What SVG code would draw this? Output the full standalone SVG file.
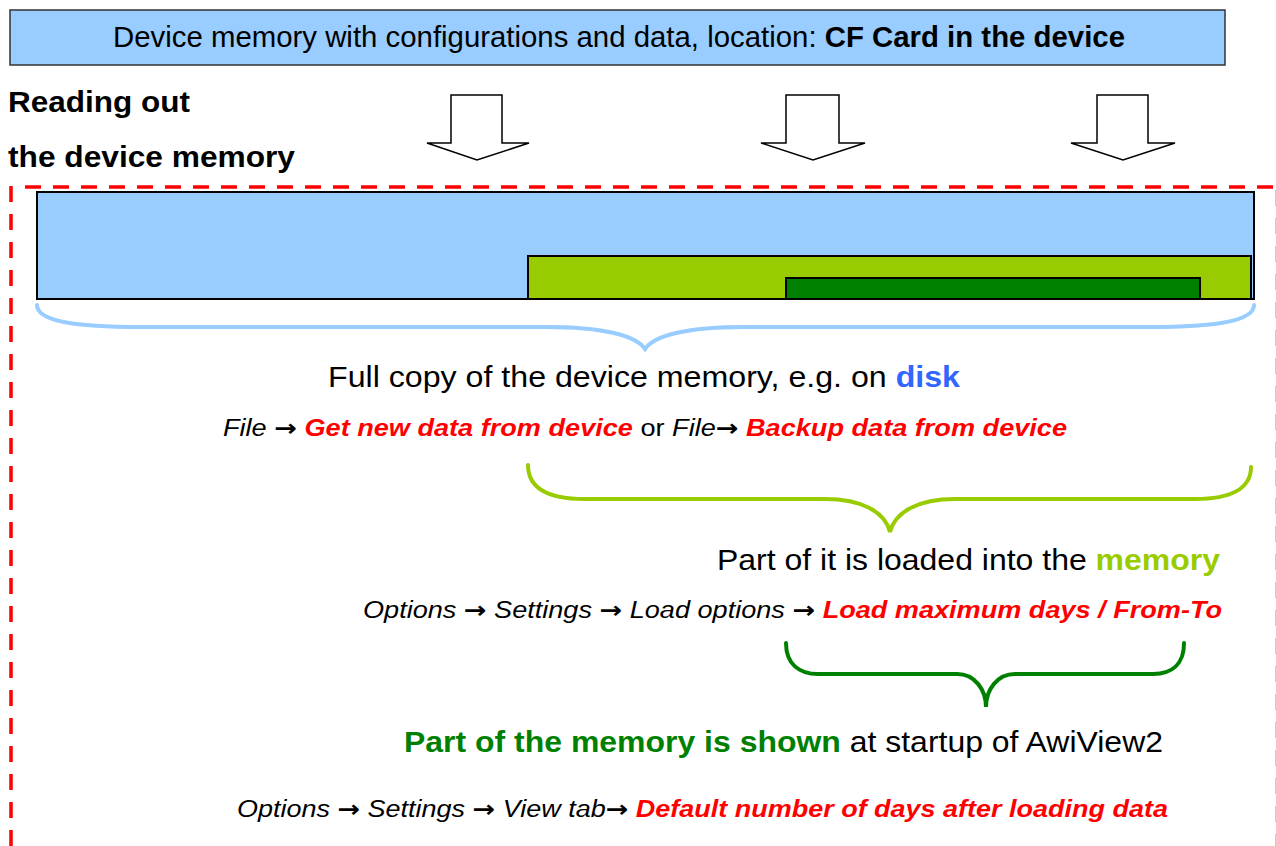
<svg xmlns="http://www.w3.org/2000/svg" width="1276" height="846" viewBox="0 0 1276 846">
  <defs>
    <style>
      text { font-family: "Liberation Sans", Arial, sans-serif; fill: #000; }
      .b { font-weight: bold; }
      .i { font-style: italic; }
      .ar { font-family: "DejaVu Sans", sans-serif; font-style: normal; font-weight: bold; }
      .red { fill: #FF0000; font-weight: bold; font-style: italic; }
      .main { font-size: 29px; }
      .menu { font-size: 23px; }
      .mem { fill: #99CCFF; stroke: #000; stroke-width: 2; }
      .arrow { fill: #fff; stroke: #000; stroke-width: 1.5; stroke-linejoin: miter; }
      .brace { fill: none; stroke-width: 4; stroke-linecap: round; }
      .frame { stroke: #FF0000; stroke-width: 3.5; stroke-dasharray: 16 12; fill: none; }
    </style>
  </defs>

  <!-- device memory on the CF card -->
  <g id="device-memory">
    <rect x="10" y="10" width="1215" height="55" fill="#99CCFF" stroke="#333" stroke-width="1.5"/>
    <text class="main" x="113" y="47" textLength="1012" lengthAdjust="spacingAndGlyphs">Device memory with configurations and data, location: <tspan class="b">CF Card in the device</tspan></text>
  </g>

  <g id="reading-label">
    <text class="main b" x="8" y="112" textLength="182" lengthAdjust="spacingAndGlyphs">Reading out</text>
    <text class="main b" x="8" y="167" textLength="287" lengthAdjust="spacingAndGlyphs">the device memory</text>
  </g>

  <!-- block arrows down -->
  <g id="arrows">
    <path class="arrow" d="M451,95 H502 V143 H529 L477,160 L427,143 H451 Z"/>
    <path class="arrow" d="M786,95 H839 V143 H865 L813,160 L761,143 H786 Z"/>
    <path class="arrow" d="M1097,95 H1148 V143 H1175 L1123,160 L1071,143 H1097 Z"/>
  </g>

  <!-- dashed frame -->
  <g id="frame">
    <line class="frame" x1="11" y1="186" x2="11" y2="846"/>
    <line class="frame" x1="25" y1="187" x2="1276" y2="187"/>
    <line class="frame" x1="1277.4" y1="190" x2="1277.4" y2="846" stroke-opacity="0.8"/>
  </g>

  <!-- memory blocks -->
  <g id="memory-blocks">
    <rect class="mem" x="37" y="192" width="1217" height="107"/>
    <rect x="528" y="256" width="723" height="43" fill="#99CC00" stroke="#000" stroke-width="2"/>
    <rect x="786" y="278" width="414" height="21" fill="#008000" stroke="#000" stroke-width="2"/>
  </g>

  <!-- braces -->
  <g id="connectors">
    <path class="brace" stroke="#99CCFF" d="M37,305 C37,321 75,327 140,327 L545,327 C605,327 636,336 645,349 C654,336 685,327 745,327 L1150,327 C1215,327 1254,321 1254,305"/>
    <path class="brace" stroke="#99CC00" d="M528,465 C528,489 550,499 585,499 L825,499 C862,499 885,512 890,532 C895,512 918,499 955,499 L1195,499 C1230,499 1251,489 1251,467"/>
    <path class="brace" stroke="#008000" stroke-width="3.5" d="M786,643 C786,664 799,674 818,674 L957,674 C975,674 986,690 986,707 C986,690 997,674 1015,674 L1153,674 C1172,674 1184,664 1184,643"/>
  </g>

  <g id="disk-copy">
    <text class="main" x="328" y="387" textLength="632" lengthAdjust="spacingAndGlyphs">Full copy of the device memory, e.g. on <tspan class="b" fill="#3366FF">disk</tspan></text>
    <text class="menu" x="223" y="436" textLength="844" lengthAdjust="spacingAndGlyphs"><tspan class="i">File </tspan><tspan class="ar">→</tspan> <tspan class="red">Get new data from device</tspan> or <tspan class="i">File</tspan><tspan class="ar">→</tspan>  <tspan class="red">Backup data from device</tspan></text>
  </g>

  <g id="loaded-part">
    <text class="main" x="717" y="570" textLength="503" lengthAdjust="spacingAndGlyphs">Part of it is loaded into the <tspan class="b" fill="#99CC00">memory</tspan></text>
    <text class="menu" x="363" y="618" textLength="859" lengthAdjust="spacingAndGlyphs"><tspan class="i">Options </tspan><tspan class="ar">→</tspan><tspan class="i"> Settings </tspan><tspan class="ar">→</tspan><tspan class="i"> Load options </tspan><tspan class="ar">→</tspan> <tspan class="red">Load maximum days / From-To</tspan></text>
  </g>

  <g id="shown-part">
    <text class="main" x="404" y="752" textLength="759" lengthAdjust="spacingAndGlyphs"><tspan class="b" fill="#008000">Part of the memory is shown</tspan> at startup of AwiView2</text>
    <text class="menu" x="237" y="817" textLength="931" lengthAdjust="spacingAndGlyphs"><tspan class="i">Options </tspan><tspan class="ar">→</tspan><tspan class="i"> Settings </tspan><tspan class="ar">→</tspan><tspan class="i"> View tab</tspan><tspan class="ar">→</tspan> <tspan class="red">Default number of days after loading data</tspan></text>
  </g>
</svg>
